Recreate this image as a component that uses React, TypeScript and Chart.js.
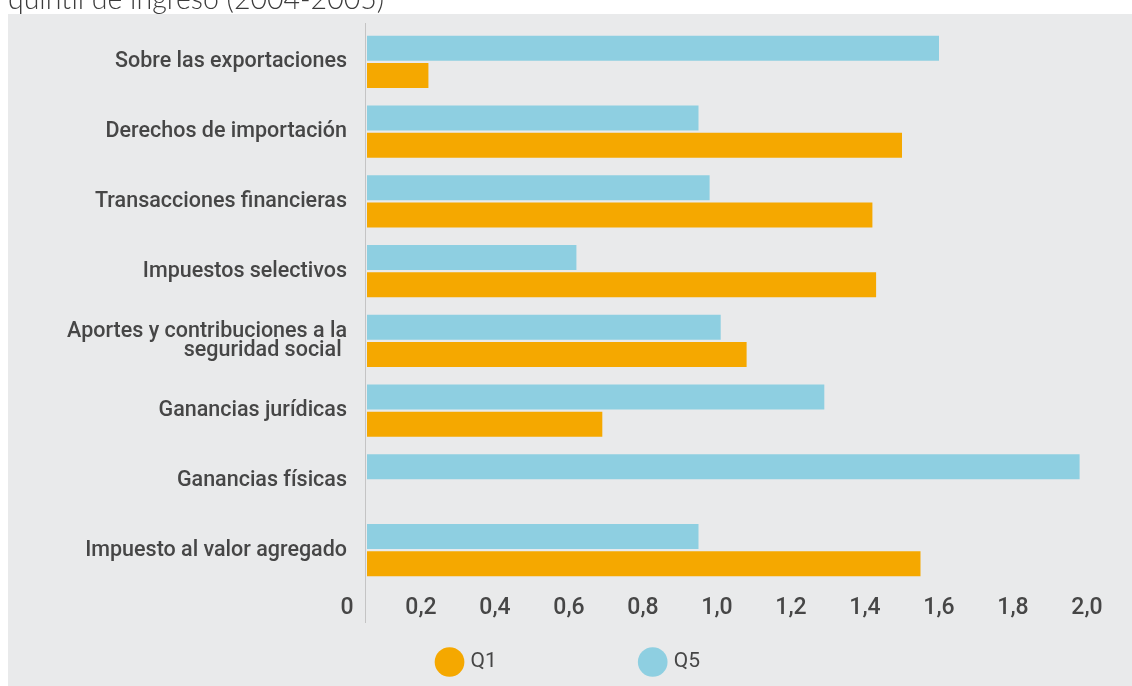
import React, { useEffect, useRef } from "react";
import { Chart, registerables } from "chart.js";

Chart.register(...registerables);

// ---- data ----
const titleText = "quintil de ingreso (2004-2005)";
const categories: (string | string[])[] = [
  "Sobre las exportaciones",
  "Derechos de importación",
  "Transacciones financieras",
  "Impuestos selectivos",
  ["Aportes y contribuciones a la", "seguridad social "],
  "Ganancias jurídicas",
  "Ganancias físicas",
  "Impuesto al valor agregado",
];
const seriesNames = ["Q5", "Q1"];
const q5Values = [1.6, 0.95, 0.98, 0.62, 1.01, 1.29, 1.98, 0.95];
const q1Values: (number | null)[] = [0.22, 1.5, 1.42, 1.43, 1.08, 0.69, null, 1.55];
const tickValues = [0, 0.2, 0.4, 0.6, 0.8, 1.0, 1.2, 1.4, 1.6, 1.8, 2.0];
const axisStart = 0.054;
const axisEnd = 2.0;

const COLOR_Q5 = "#8ecfe1";
const COLOR_Q1 = "#f5a800";
const BG = "#e9eaeb";
const TEXT = "#464646";

const axisLinePlugin = {
  id: "axisLine",
  beforeDatasetsDraw(chart: any) {
    const { ctx, chartArea } = chart;
    ctx.save();
    ctx.strokeStyle = "#c4c4c4";
    ctx.lineWidth = 1;
    const x = Math.round(chartArea.left) - 1.5;
    ctx.beginPath();
    ctx.moveTo(x, chartArea.top - 4);
    ctx.lineTo(x, chartArea.bottom + 38);
    ctx.stroke();
    ctx.restore();
  },
};

export default function App() {
  const ref = useRef<HTMLCanvasElement | null>(null);

  useEffect(() => {
    if (!ref.current) return;
    const chart = new Chart(ref.current, {
      type: "bar",
      data: {
        labels: categories,
        datasets: [
          {
            label: seriesNames[0],
            data: q5Values,
            backgroundColor: COLOR_Q5,
            borderWidth: 0,
            categoryPercentage: 0.776,
            barPercentage: 0.926,
          },
          {
            label: seriesNames[1],
            data: q1Values,
            backgroundColor: COLOR_Q1,
            borderWidth: 0,
            categoryPercentage: 0.776,
            barPercentage: 0.926,
          },
        ],
      },
      options: {
        indexAxis: "y",
        animation: false,
        responsive: true,
        maintainAspectRatio: false,
        layout: { padding: { top: 13, right: 45, bottom: 3.5, left: 44 } },
        scales: {
          x: {
            type: "linear",
            min: axisStart,
            max: axisEnd,
            grid: { display: false, drawTicks: false },
            border: { display: false },
            afterBuildTicks: (scale: any) => {
              scale.ticks = tickValues.map((v) => ({ value: v }));
            },
            afterFit: (scale: any) => {
              scale.height = 56.5;
              scale.paddingLeft = 0;
              scale.paddingRight = 0;
            },
            ticks: {
              autoSkip: false,
              maxRotation: 0,
              padding: 11.5,
              color: TEXT,
              font: { family: "Roboto", size: 23, weight: "500", lineHeight: 1 },
              callback: (v: any) =>
                Number(v) === 0 ? "0" : Number(v).toFixed(1).replace(".", ","),
            },
          },
          y: {
            type: "category",
            grid: { display: false, drawTicks: false },
            border: { display: false },
            afterFit: (scale: any) => {
              scale.width = 315;
              scale.paddingTop = 0;
              scale.paddingBottom = 0;
            },
            ticks: {
              padding: 20,
              color: TEXT,
              font: { family: "Roboto", size: 21.5, weight: "500", lineHeight: 0.9 },
            },
          },
        },
        plugins: {
          legend: {
            position: "bottom",
            labels: {
              usePointStyle: true,
              pointStyle: "circle",
              padding: 10,
              color: TEXT,
              font: { family: "Roboto", size: 21 },
              generateLabels: (c: any) => {
                const items = Chart.defaults.plugins.legend.labels.generateLabels(c);
                items.reverse();
                items.forEach((it: any, i: number) => {
                  it.lineWidth = 0;
                  if (i === 0) it.text = it.text + " ".repeat(26);
                });
                return items;
              },
            },
          },
          tooltip: { enabled: false },
        },
      },
      plugins: [axisLinePlugin],
    });
    return () => chart.destroy();
  }, []);

  return (
    <div>
      <div
        style={{
          position: "fixed",
          left: 8,
          top: -16,
          fontFamily: "Lato",
          fontWeight: 300,
          fontSize: 28.5,
          lineHeight: "28.5px",
          color: "#3c3c3c",
          whiteSpace: "nowrap",
        }}
      >
        {titleText}
      </div>
      <div
        style={{
          position: "fixed",
          left: 8,
          top: 14,
          width: 1124,
          height: 672,
          background: BG,
        }}
      >
        <canvas ref={ref} />
      </div>
    </div>
  );
}
